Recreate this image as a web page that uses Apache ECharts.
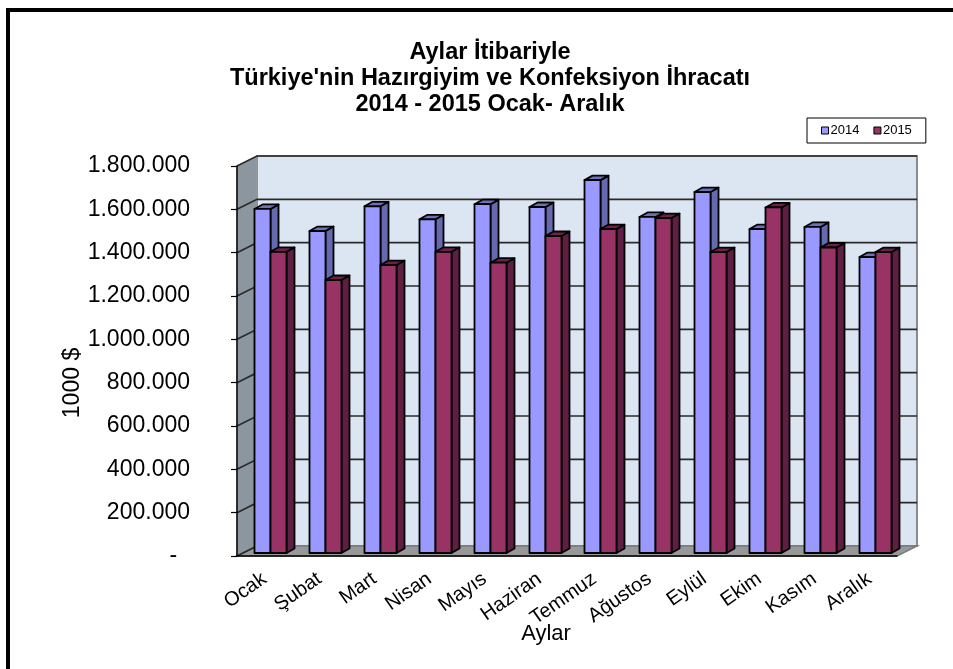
<!DOCTYPE html>
<html><head><meta charset="utf-8">
<style>html,body{margin:0;padding:0;background:#fff}#c{width:953px;height:669px}</style>
<script src="https://cdn.jsdelivr.net/npm/echarts@6/dist/echarts.min.js"></script>
</head><body><div id="c"></div>
<script>
const months = ['Ocak','Şubat','Mart','Nisan','Mayıs','Haziran','Temmuz','Ağustos','Eylül','Ekim','Kasım','Aralık'];
const values2014 = [1588000,1486000,1600000,1540000,1610000,1597000,1721000,1551000,1666000,1495000,1505000,1366000];
const values2015 = [1390000,1260000,1329000,1390000,1340000,1463000,1495000,1546000,1389000,1595000,1410000,1389000];
const yTicks = [0,200000,400000,600000,800000,1000000,1200000,1400000,1600000,1800000];
const FONT = '"Liberation Sans", Arial, sans-serif';
const WALL = {dx:20, dy:-10}, BAR = {dx:8, dy:-4.5, w:16, lift:3, start:-10};

function tickLabel(v){
  if(v===0) return '-  ';
  return String(v).replace(/\B(?=(\d{3})+(?!\d))/g,'.');
}
function renderWalls(params, api){
  if(params.dataIndex!==0) return;
  const g=params.coordSys, L=g.x, R=g.x+g.width, T=g.y, B=g.y+g.height, d=WALL;
  return {type:'group',silent:true,children:[
    {type:'polygon',shape:{points:[[L+d.dx,T+d.dy],[R+d.dx,T+d.dy],[R+d.dx,B+d.dy],[L+d.dx,B+d.dy]]},
      style:{fill:'#DCE6F2',stroke:'#8A8A8A',lineWidth:2}},
    {type:'polygon',shape:{points:[[L,T],[L+d.dx,T+d.dy],[L+d.dx,B+d.dy],[L,B]]},
      style:{fill:'#8C969F',stroke:'#9A9A9A',lineWidth:1}},
    {type:'polygon',shape:{points:[[L,B],[L+d.dx,B+d.dy],[R+d.dx,B+d.dy],[R,B]]},
      style:{fill:'#989898',stroke:'#7A7A7A',lineWidth:1.5}}
  ]};
}
function renderGrid(params, api){
  const g=params.coordSys, y=api.coord([0,api.value(1)])[1], L=g.x, R=g.x+g.width, d=WALL;
  const v=api.value(1);
  const pts = v===0 ? [[L,y],[L+d.dx,y+d.dy]] : [[L,y],[L+d.dx,y+d.dy],[R+d.dx,y+d.dy]];
  return {type:'polyline',silent:true,shape:{points:pts},style:{fill:'none',stroke:'#2A2A2A',lineWidth:1.6}};
}
function makeBar(slot, front, top, side){
  return function(params, api){
    const p=api.coord([api.value(0),api.value(1)]), z=api.coord([api.value(0),0]);
    const x=p[0]+BAR.start+slot*BAR.w, w=BAR.w, t=p[1]-BAR.lift, b=z[1]-BAR.lift, dx=BAR.dx, dy=BAR.dy;
    const st={stroke:'#000',lineWidth:1.8,lineJoin:'round'};
    return {type:'group',children:[
      {type:'polygon',shape:{points:[[x+w,t],[x+w+dx,t+dy],[x+w+dx,b+dy],[x+w,b]]},style:Object.assign({fill:side},st)},
      {type:'polygon',shape:{points:[[x,t],[x+dx,t+dy],[x+w+dx,t+dy],[x+w,t]]},style:Object.assign({fill:top},st)},
      {type:'rect',shape:{x:x,y:t,width:w,height:b-t},style:Object.assign({fill:front},st)}
    ]};
  };
}
const chart=echarts.init(document.getElementById('c'),null,{renderer:'canvas'});
chart.setOption({
  animation:false,
  backgroundColor:'#fff',
  graphic:[{type:'rect',silent:true,shape:{x:8,y:10,width:1100,height:900},style:{fill:'none',stroke:'#000',lineWidth:4}}],
  title:{text:"Aylar İtibariyle\nTürkiye'nin Hazırgiyim ve Konfeksiyon İhracatı\n2014 - 2015 Ocak- Aralık",
    left:485,top:35,textAlign:'center',
    textStyle:{fontFamily:FONT,fontWeight:'bold',fontSize:23.5,lineHeight:26,color:'#000'}},
  legend:{left:807,top:118,orient:'horizontal',
    padding:[6,14,6,14],itemWidth:7,itemHeight:7,itemGap:14,
    borderColor:'#000',borderWidth:1,backgroundColor:'#fff',selectedMode:false,
    textStyle:{fontFamily:FONT,fontSize:13,color:'#000',padding:[0,0,0,-3]},
    data:[{name:'2014',icon:'rect',itemStyle:{color:'#9999FF',borderColor:'#000',borderWidth:1}},
          {name:'2015',icon:'rect',itemStyle:{color:'#993366',borderColor:'#000',borderWidth:1}}]},
  grid:{left:237,top:166,width:660,height:390},
  xAxis:{type:'category',data:months,z:5,
    name:'Aylar',nameLocation:'middle',nameGap:67,nameMoveOverlap:false,
    nameTextStyle:{fontFamily:FONT,fontSize:22,color:'#000',padding:[0,42,0,0]},
    axisLine:{lineStyle:{color:'#000',width:1.5}},
    axisTick:{alignWithLabel:false,length:6,lineStyle:{color:'#000',width:1.2}},
    axisLabel:{rotate:35,interval:0,margin:21,fontFamily:FONT,fontSize:20,color:'#000'}},
  yAxis:{type:'value',min:0,max:1800000,interval:200000,z:5,
    name:'1000 $',nameLocation:'middle',nameGap:153,nameRotate:90,nameMoveOverlap:false,
    nameTextStyle:{fontFamily:FONT,fontSize:23,color:'#000',padding:[0,44,0,0]},
    axisLine:{show:true,lineStyle:{color:'#000',width:1.5}},
    axisTick:{show:true,length:6,lineStyle:{color:'#000',width:1.2}},
    splitLine:{show:false},
    axisLabel:{margin:47,fontFamily:FONT,fontSize:23,color:'#000',formatter:tickLabel}},
  series:[
    {type:'custom',name:'walls',z:1,clip:false,silent:true,renderItem:renderWalls,data:[[0,0]],encode:{x:0,y:1}},
    {type:'custom',name:'grid',z:1.5,clip:false,silent:true,renderItem:renderGrid,data:yTicks.map(v=>[0,v]),encode:{x:0,y:1}},
    {type:'custom',name:'2014',z:2,clip:false,renderItem:makeBar(0,'#9999FF','#6F70B8','#6669AD'),
      itemStyle:{color:'#9999FF'},data:values2014.map((v,i)=>[i,v]),encode:{x:0,y:1}},
    {type:'custom',name:'2015',z:3,clip:false,renderItem:makeBar(1,'#993366','#6B2148','#5F1F42'),
      itemStyle:{color:'#993366'},data:values2015.map((v,i)=>[i,v]),encode:{x:0,y:1}}
  ]
});
</script></body></html>
